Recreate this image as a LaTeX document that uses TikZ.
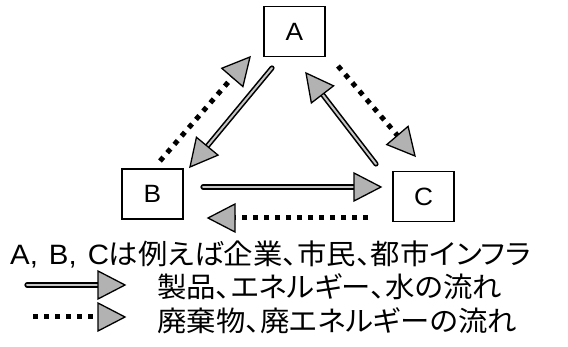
\documentclass[tikz,border=0pt]{standalone}
\usepackage{fontspec}
\setmainfont{Liberation Sans}[FakeStretch=1.05]
\newfontfamily\jp[RawFeature=+palt,FakeStretch=1.05]{Noto Sans CJK JP}
\usetikzlibrary{arrows.meta,calc}
\newcommand\flowhead[2]{%
  \path ($(#2)!27pt!(#1)$) coordinate (hb);
  \draw[head] (#2) -- ($(hb)!14pt!90:(#2)$) -- ($(hb)!14pt!-90:(#2)$) -- cycle;}
\newcommand\solidflow[2]{%
  \draw[shaft] (#1) -- ($(#2)!24pt!(#1)$);
  \flowhead{#1}{#2}}
\newcommand\dotflow[2]{%
  \draw[dotline] (#1) -- ($(#2)!25pt!(#1)$);
  \flowhead{#1}{#2}}
\begin{document}
\begin{tikzpicture}[x=1pt,y=-1pt,
  box/.style={draw=black, line width=1.3pt, minimum width=61pt, minimum height=50pt, inner sep=0pt, font=\fontsize{25}{25}\selectfont},
  shaft/.style={draw=black, double=gray!45, double distance=2pt, line width=1.6pt, line cap=round},
  dotline/.style={draw=black, line width=5pt, dash pattern=on 5pt off 6pt},
  head/.style={draw=black, line width=1.3pt, fill=gray!60, line join=miter},
  txt/.style={anchor=base west, inner sep=0pt, font=\fontsize{28}{28}\selectfont}]
\useasboundingbox (0,0) rectangle (568,347);
\node[box] (A) at (294.5,31.5) {A};
\node[box] (B) at (152.5,194) {B};
\node[box] (C) at (423.5,196.5) {C};
% endpoints
\coordinate (ab1) at (272,68);  \coordinate (ab2) at (190,167);
\coordinate (ba1) at (160,161); \coordinate (ba2) at (250,57);
\coordinate (ca1) at (376,164); \coordinate (ca2) at (306,73);
\coordinate (ac1) at (338,66);  \coordinate (ac2) at (415,156);
\coordinate (bc1) at (203,187); \coordinate (bc2) at (381,187);
\coordinate (cb1) at (368,218); \coordinate (cb2) at (208,218);
\coordinate (l11) at (27,285);  \coordinate (l12) at (125,285);
\coordinate (l21) at (33,317);  \coordinate (l22) at (125,317);
\solidflow{ab1}{ab2}
\dotflow{ba1}{ba2}
\solidflow{ca1}{ca2}
\dotflow{ac1}{ac2}
\solidflow{bc1}{bc2}
\dotflow{cb1}{cb2}
\solidflow{l11}{l12}
\dotflow{l21}{l22}
\node[txt] (t1) at (10,265) {\spaceskip=11pt A, B, C\jp は例えば企業、市民、都市インフラ};
\node[txt] (t2) at (157,298) {\jp 製品、エネルギー、水の流れ};
\node[txt] (t3) at (157,332) {\jp 廃棄物、廃エネルギーの流れ};
\end{tikzpicture}
\end{document}
